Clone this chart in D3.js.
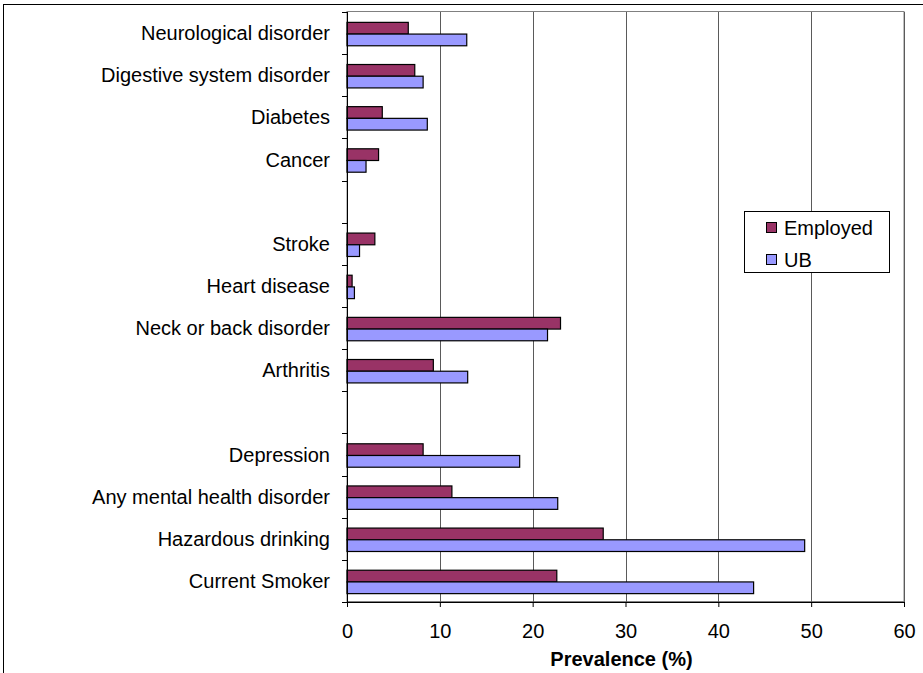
<!DOCTYPE html>
<html>
<head>
<meta charset="utf-8">
<script src="https://cdn.jsdelivr.net/npm/d3@7"></script>
<style>
  html, body { margin: 0; padding: 0; background: #fff; }
  svg { display: block; font-family: "Liberation Sans", Arial, sans-serif; }
</style>
</head>
<body>
<svg id="chart" width="923" height="673"></svg>
<script>
// Condition categories, top to bottom; empty strings are spacer rows between groups
const categories = [
  "Neurological disorder", "Digestive system disorder", "Diabetes", "Cancer", "",
  "Stroke", "Heart disease", "Neck or back disorder", "Arthritis", "",
  "Depression", "Any mental health disorder", "Hazardous drinking", "Current Smoker"
];
const seriesNames = ["Employed", "UB"];
const employed = [6.6, 7.3, 3.8, 3.4, null, 3.0, 0.55, 23.0, 9.3, null, 8.2, 11.3, 27.6, 22.6];
const ub       = [12.9, 8.2, 8.65, 2.05, null, 1.35, 0.8, 21.6, 13.0, null, 18.6, 22.7, 49.3, 43.8];
const xTicks = [0, 10, 20, 30, 40, 50, 60];
const colors = ["#993366", "#9999FF"];

const FS = 20;
const svg = d3.select("#chart");
const plot = { left: 347, right: 904, top: 12, bottom: 602 };

// outer chart frame (extends past the right and bottom edges)
svg.append("rect")
  .attr("x", 3.5).attr("y", 4.5).attr("width", 960).attr("height", 700)
  .attr("fill", "none").attr("stroke", "#000").attr("stroke-width", 1);

const x = d3.scaleLinear().domain([0, 60]).range([plot.left, plot.right]);
const y = d3.scaleBand().domain(d3.range(categories.length)).range([plot.top, plot.bottom]);
const inner = d3.scaleBand().domain(seriesNames).range([1, y.bandwidth() + 1]).paddingOuter(0.8).paddingInner(0);

// plot-area border and vertical gridlines
svg.append("rect")
  .attr("x", plot.left).attr("y", plot.top - 0.5)
  .attr("width", plot.right - plot.left).attr("height", plot.bottom - plot.top)
  .attr("fill", "none").attr("stroke", "#808080").attr("stroke-width", 1);

svg.append("g").selectAll("line")
  .data(xTicks.slice(1))
  .join("line")
  .attr("x1", d => Math.round(x(d)) + 0.5).attr("x2", d => Math.round(x(d)) + 0.5)
  .attr("y1", plot.top).attr("y2", plot.bottom)
  .attr("stroke", "#5a5a5a").attr("stroke-width", 1);

// bars
const rows = categories.map((c, i) => ({ i, vals: [employed[i], ub[i]] }));
const groups = svg.append("g").selectAll("g")
  .data(rows.filter(r => r.vals[0] != null))
  .join("g")
  .attr("transform", d => `translate(0,${y(d.i)})`);

groups.selectAll("rect")
  .data(d => d.vals.map((v, k) => ({ v, k })))
  .join("rect")
  .attr("x", x(0))
  .attr("y", d => inner(seriesNames[d.k]))
  .attr("width", d => x(d.v) - x(0))
  .attr("height", inner.bandwidth())
  .attr("fill", d => colors[d.k])
  .attr("stroke", "#000").attr("stroke-width", 1.2);

// x axis
const xAxis = d3.axisBottom(x).tickValues(xTicks).tickSize(5).tickPadding(17).tickSizeOuter(0);
const gx = svg.append("g").attr("transform", `translate(0,${plot.bottom})`).call(xAxis);
gx.select(".domain").attr("stroke", "#000");
gx.selectAll(".tick line").attr("stroke", "#000");
gx.selectAll("text").attr("font-size", FS).attr("fill", "#000")
  .attr("font-family", "Liberation Sans, Arial, sans-serif");

// y axis: ticks at category boundaries, labels centered in rows
svg.append("line")
  .attr("x1", plot.left + 0.5).attr("x2", plot.left + 0.5)
  .attr("y1", plot.top).attr("y2", plot.bottom + 5)
  .attr("stroke", "#000");
svg.append("g").selectAll("line")
  .data(d3.range(categories.length + 1))
  .join("line")
  .attr("x1", plot.left - 5).attr("x2", plot.left)
  .attr("y1", d => Math.round(plot.top + d * y.step()) + 0.5)
  .attr("y2", d => Math.round(plot.top + d * y.step()) + 0.5)
  .attr("stroke", "#000");
svg.append("g").selectAll("text")
  .data(categories.map((c, i) => ({ c, i })).filter(d => d.c))
  .join("text")
  .attr("x", 330)
  .attr("y", d => y(d.i) + y.bandwidth() / 2)
  .attr("dy", "0.35em")
  .attr("text-anchor", "end")
  .attr("font-size", FS)
  .text(d => d.c);

// axis title
svg.append("text")
  .attr("x", (plot.left + plot.right) / 2 - 4).attr("y", 666)
  .attr("text-anchor", "middle").attr("font-size", FS).attr("font-weight", "bold")
  .text("Prevalence (%)");

// legend
const lg = svg.append("g").attr("transform", "translate(744,211)");
lg.append("rect").attr("x", 0.5).attr("y", 0.5).attr("width", 145).attr("height", 61)
  .attr("fill", "#fff").attr("stroke", "#000");
seriesNames.forEach((s, k) => {
  lg.append("rect").attr("x", 22.5).attr("y", 11.5 + k * 32).attr("width", 10).attr("height", 10)
    .attr("fill", colors[k]).attr("stroke", "#000");
  lg.append("text").attr("x", 40).attr("y", 16.5 + k * 32).attr("dy", "0.35em")
    .attr("font-size", FS).text(s);
});
</script>
</body>
</html>
